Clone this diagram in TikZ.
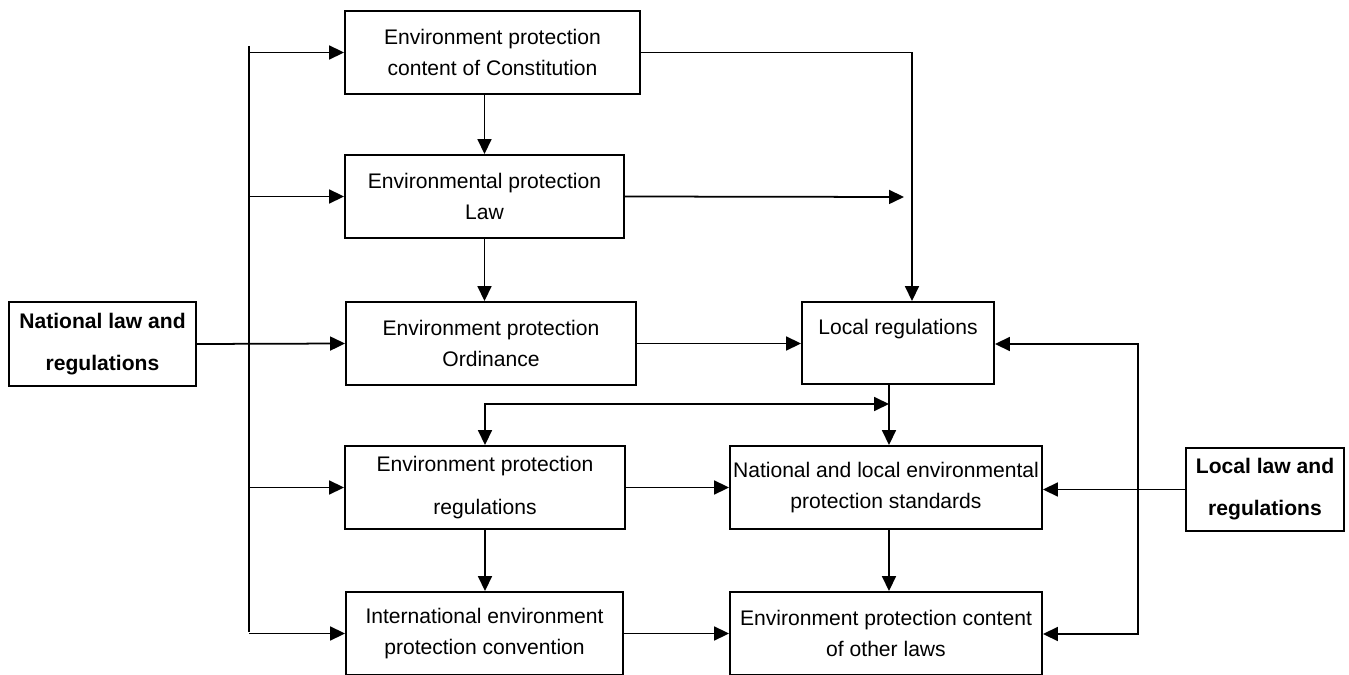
\documentclass[tikz,border=0pt]{standalone}
\usepackage{fontspec}
\setmainfont{Liberation Sans}
\usepackage{tikz}
\usetikzlibrary{calc}
\usetikzlibrary{arrows.meta}
\usetikzlibrary{positioning}

\begin{document}
\begin{tikzpicture}[x=0.02cm,y=-0.02cm]
\tikzset{box/.style={draw, line width=1.1pt, align=center, inner sep=0pt, minimum height=1.66cm, font=\fontsize{12}{18}\selectfont}}
\tikzset{boldbox/.style={box, font=\fontsize{12}{18}\selectfont\bfseries}}
\tikzset{arr/.style={line width=1pt, -{Triangle[length=0.3cm,width=0.28cm]}}}
\tikzset{arrs/.style={line width=1pt, {Triangle[length=0.3cm,width=0.28cm]}-{Triangle[length=0.3cm,width=0.28cm]}}}

\useasboundingbox (0,0) rectangle (1349,675);

\pgfmathsetmacro{\bus}{249}
\pgfmathsetmacro{\rbus}{1138}

\node[boldbox, minimum width=3.74cm, minimum height=1.68cm] (nat) at (102.5,344) {National law and\\[6pt]regulations};

\node[box, minimum width=5.9cm] (con) at (492.5,52.5) {Environment protection\\content of Constitution};
\node[box, minimum width=5.58cm] (law) at (484.5,196.5) {Environmental protection\\Law};
\node[box, minimum width=5.8cm] (ord) at (491,343.5) {Environment protection\\Ordinance};
\node[box, minimum width=5.6cm] (reg) at (485,487.5) {Environment protection\\[6pt]regulations};
\node[box, minimum width=5.54cm] (intl) at (484.5,633.5) {International environment\\protection convention};

\node[box, minimum width=3.84cm, minimum height=1.64cm] (locreg) at (898,343) {Local regulations\\~};
\node[box, minimum width=6.24cm] (std) at (886,487.5) {National and local environmental\\protection standards};
\node[box, minimum width=6.24cm] (oth) at (886,633.5) {Environment protection content\\of other laws};

\node[boldbox, minimum width=3.16cm] (loclaw) at (1265,489.5) {Local law and\\[6pt]regulations};

% national side
\coordinate (btop) at (\bus,46);
\coordinate (bbot) at (\bus,632);
\draw[line width=1pt] (btop) -- (bbot);
\foreach \n in {con,law,reg,intl}
  \draw[arr] (\n.west -| btop) -- (\n.west);
\draw[arr] (nat.east) -- (ord.west);

\draw[arr] (law.north |- con.south) -- (law.north);
\draw[arr] (law.south) -- (law.south |- ord.north);
\draw[arr] (reg.south) -- (reg.south |- intl.north);

\draw[arr] (con.east) -| ([xshift=0.28cm]locreg.north);
\coordinate (lawtip) at (904,197);
\draw[arr] (law.east) -- (lawtip);
\draw[arr] (ord.east) -- (ord.east -| locreg.west);

\coordinate (jn) at (889,404);
\draw[arr] (locreg.south -| jn) -- (std.north -| jn);
\draw[arrs] (jn) -| (reg.north);

\draw[arr] (reg.east) -- (reg.east -| std.west);
\draw[arr] (intl.east) -- (intl.east -| oth.west);
\draw[arr] (std.south -| jn) -- (oth.north -| jn);

% local side
\coordinate (rtop) at (\rbus,344);
\coordinate (rbot) at (\rbus,634);
\draw[arrs] (locreg.east |- rtop) -- (rtop) -- (rbot) -- (rbot -| oth.east);
\draw[arr] (loclaw.west) -- (loclaw.west -| std.east);
\end{tikzpicture}
\end{document}
